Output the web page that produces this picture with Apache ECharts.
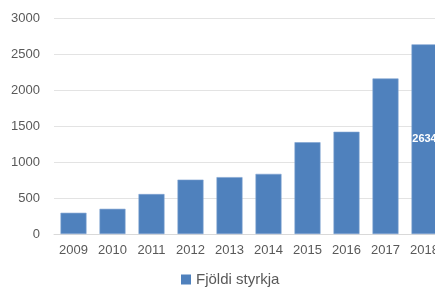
<!DOCTYPE html>
<html>
<head>
<meta charset="utf-8">
<script src="https://cdn.jsdelivr.net/npm/echarts@6/dist/echarts.min.js"></script>
<style>
  html, body { margin: 0; padding: 0; background: #fff; }
  #chart { width: 435px; height: 289px; }
</style>
</head>
<body>
<div id="chart"></div>
<script>
// ár og fjöldi styrkja
const years = ['2009', '2010', '2011', '2012', '2013', '2014', '2015', '2016', '2017', '2018']
const counts = [295, 350, 555, 755, 790, 835, 1275, 1420, 2160, 2634]
const yTicks = [0, 500, 1000, 1500, 2000, 2500, 3000]
const seriesName = 'Fjöldi styrkja'

const font = 'Liberation Sans, Arial, sans-serif'
const chart = echarts.init(document.getElementById('chart'))

chart.setOption({
  animation: false,
  grid: { left: 54, top: 18, width: 390, height: 216, outerBoundsMode: 'none', containLabel: false },
  legend: {
    data: [seriesName],
    left: 176,
    top: 267,
    itemWidth: 10,
    itemHeight: 10,
    itemGap: 6,
    icon: 'rect',
    itemStyle: { borderWidth: 0 },
    textStyle: { fontFamily: font, fontSize: 15, color: '#595959' },
  },
  xAxis: {
    type: 'category',
    data: years,
    axisLine: { lineStyle: { color: '#d9d9d9' } },
    axisTick: { show: false },
    axisLabel: { fontFamily: font, fontSize: 13, color: '#595959', margin: 10 },
  },
  yAxis: {
    type: 'value',
    min: yTicks[0],
    max: yTicks[yTicks.length - 1],
    interval: 500,
    axisLine: { show: false },
    axisTick: { show: false },
    splitLine: { lineStyle: { color: '#e3e3e3' } },
    axisLabel: { fontFamily: font, fontSize: 13, color: '#595959', margin: 14, formatter: v => String(v) },
  },
  series: [{
    name: seriesName,
    type: 'bar',
    barWidth: 26,
    data: counts.map((v, i) => i === counts.length - 1
      ? { value: v, label: { show: true } }
      : v),
    itemStyle: { color: '#4f81bd', borderColor: '#7fa3d1', borderWidth: 0.6 },
    label: {
      show: false,
      position: 'inside',
      color: '#fff',
      fontFamily: font,
      fontWeight: 'bold',
      fontSize: 11,
    },
  }],
})
</script>
</body>
</html>
